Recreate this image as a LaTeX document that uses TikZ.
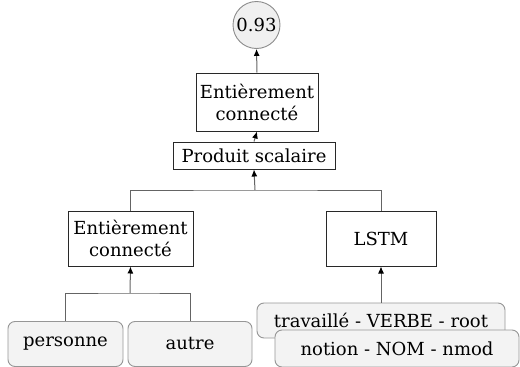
\documentclass[tikz,border=0pt]{standalone}
\usepackage{fontspec}
\setmainfont{DejaVu Serif}
\usetikzlibrary{arrows.meta}

\tikzset{
  layer/.style={draw={rgb,255:red,40;green,40;blue,40}, fill=white, line width=1pt, align=center, inner sep=0pt},
  token/.style={draw={rgb,255:red,150;green,150;blue,150}, fill={rgb,255:red,243;green,243;blue,243}, rounded corners=7pt, line width=0.9pt, inner sep=0pt},
  score/.style={circle, draw={rgb,255:red,140;green,140;blue,140}, fill={rgb,255:red,240;green,240;blue,240}, line width=0.9pt, inner sep=0pt},
  link/.style={draw={rgb,255:red,100;green,100;blue,100}, line width=1pt},
  feed/.style={link, -{Latex[length=7pt,width=6pt,color=black]}},
}

\begin{document}
\begin{tikzpicture}[x=1pt,y=1pt,yscale=-1,xscale=1,font=\fontsize{18}{22}\selectfont]
\useasboundingbox (0,0) rectangle (520,367);

% Output
\node [score, minimum size=47pt] (out) at (256.5,25) {0.93};
% Layers
\node [layer, minimum width=122pt, minimum height=58pt] (fcTop) at (257,102) {Entièrement\\connecté};
\node [layer, minimum width=162pt, minimum height=27pt] (dot) at (254,155.5) {Produit scalaire};
\node [layer, minimum width=125pt, minimum height=55pt] (fcLeft) at (130.5,238.5) {Entièrement\\connecté};
\node [layer, minimum width=110pt, minimum height=55pt] (lstm) at (381,238.5) {LSTM};
% Inputs
\node [token, minimum width=115pt, minimum height=45pt] (personne) at (65.5,344) {personne};
\node [token, minimum width=124pt, minimum height=45pt] (autre) at (190,344) {autre};
\node [token, minimum width=248pt, minimum height=35pt] (verbe) at (381,320.5) {travaillé - VERBE - root};
\node [token, minimum width=244pt, minimum height=37pt] (nom) at (397,348.5) {notion - NOM - nmod};

% Junctions
\coordinate (join) at (255,190);
\coordinate (fan) at (130,293);

%Straight Lines
\draw [feed] (fcTop.north) -- (out.south);
\draw [feed] (dot.north) -- (fcTop.south);
\draw [link] (fcLeft.north) |- (join) -| (lstm.north);
\draw [feed] (join) -- (dot.south);
\draw [link] (personne.north) |- (fan) -| (autre.north);
\draw [feed] (fan) -- (fcLeft.south);
\draw [feed] (verbe.north) -- (lstm.south);

\end{tikzpicture}
\end{document}
